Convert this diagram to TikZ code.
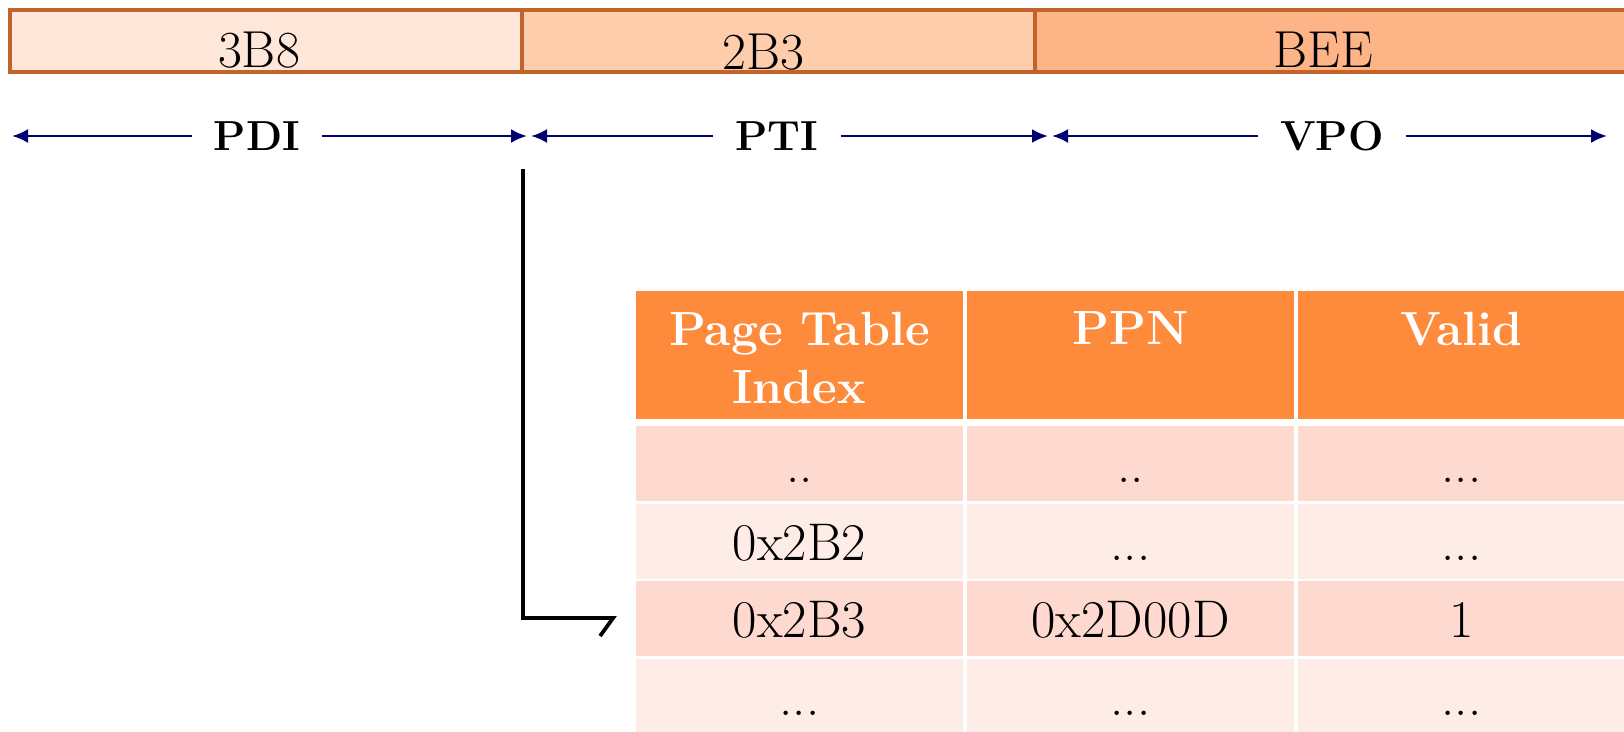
\documentclass[tikz,border=0pt]{standalone}
\usetikzlibrary{arrows.meta}
\definecolor{barline}{RGB}{192,100,44}
\definecolor{fieldA}{RGB}{254,230,216}
\definecolor{fieldB}{RGB}{253,205,172}
\definecolor{fieldC}{RGB}{253,180,134}
\definecolor{spanline}{RGB}{0,0,110}
\definecolor{headfill}{RGB}{254,138,59}
\definecolor{rowdark}{RGB}{253,217,207}
\definecolor{rowlight}{RGB}{254,236,230}
\begin{document}
\begin{tikzpicture}[x=1pt,y=-1pt,
  field/.style={draw=barline,line width=4.5pt,minimum height=62pt,inner sep=0pt},
  fieldtext/.style={font=\fontsize{52}{62}\selectfont,anchor=base,inner sep=0pt},
  spanlabel/.style={font=\bfseries\fontsize{42}{50}\selectfont,inner xsep=22pt,inner ysep=0pt},
  span/.style={draw=spanline,line width=2.6pt,-{Latex[length=16pt,width=14pt]}},
  cell/.style={minimum width=327pt,inner sep=0pt,font=\fontsize{53}{62}\selectfont,text height=38pt,text depth=0pt},
  headcell/.style={cell,fill=headfill,minimum height=128pt},
  headtext/.style={font=\bfseries\fontsize{48}{58}\selectfont,text=white,align=center,anchor=north,inner sep=0pt},
  darkrow/.style={cell,fill=rowdark,minimum height=75pt},
  lightrow/.style={cell,fill=rowlight,minimum height=75pt},
  link/.style={draw=black,line width=3.8pt,-{Straight Barb[right,length=13pt,width=36pt]}}
]
\useasboundingbox (0,0) rectangle (1624,731);

% virtual address fields
\node[field,fill=fieldA,minimum width=512pt] (f1) at (266,41) {};
\node[field,fill=fieldB,minimum width=513pt] (f2) at (778.5,41) {};
\node[field,fill=fieldC,minimum width=605pt] (f3) at (1337.5,41) {};
\node[fieldtext] (t1) at (259,67) {3B8};
\node[fieldtext] (t2) at (763,69) {2B3};
\node[fieldtext] (t3) at (1323,67) {BEE};

% field spans
\node[spanlabel] (pdi) at (257,136) {PDI};
\node[spanlabel] (pti) at (777,136) {PTI};
\node[spanlabel] (vpo) at (1332,136) {VPO};
\coordinate (s0) at (12,136);
\coordinate (s1a) at (527,136);
\coordinate (s1b) at (531,136);
\coordinate (s2a) at (1048,136);
\coordinate (s2b) at (1052,136);
\coordinate (s3) at (1607,136);
\draw[span] (pdi.west) -- (s0);
\draw[span] (pdi.east) -- (s1a);
\draw[span] (pti.west) -- (s1b);
\draw[span] (pti.east) -- (s2a);
\draw[span] (vpo.west) -- (s2b);
\draw[span] (vpo.east) -- (s3);

% page table
\node[headcell] (h1) at (799.5,355) {};
\node[headcell] (h2) at (1130.5,355) {};
\node[headcell] (h3) at (1461.5,355) {};
\node[headtext] (ht1) at ([yshift=-21pt]h1.north) {Page Table\\Index};
\node[headtext] (ht2) at ([yshift=-21pt]h2.north) {PPN};
\node[headtext] (ht3) at ([yshift=-21pt]h3.north) {Valid};

\node[darkrow] (r1c1) at (799.5,463.5) {..};
\node[darkrow] (r1c2) at (1130.5,463.5) {..};
\node[darkrow] (r1c3) at (1461.5,463.5) {...};
\node[lightrow] (r2c1) at (799.5,541) {0x2B2};
\node[lightrow] (r2c2) at (1130.5,541) {...};
\node[lightrow] (r2c3) at (1461.5,541) {...};
\node[darkrow] (r3c1) at (799.5,618) {0x2B3};
\node[darkrow] (r3c2) at (1130.5,618) {0x2D00D};
\node[darkrow] (r3c3) at (1461.5,618) {1};
\node[lightrow] (r4c1) at (799.5,696.5) {...};
\node[lightrow] (r4c2) at (1130.5,696.5) {...};
\node[lightrow] (r4c3) at (1461.5,696.5) {...};

% index lookup
\coordinate (drop) at (523,169);
\draw[link] (drop) |- ([xshift=-19pt]r3c1.west);
\end{tikzpicture}
\end{document}
